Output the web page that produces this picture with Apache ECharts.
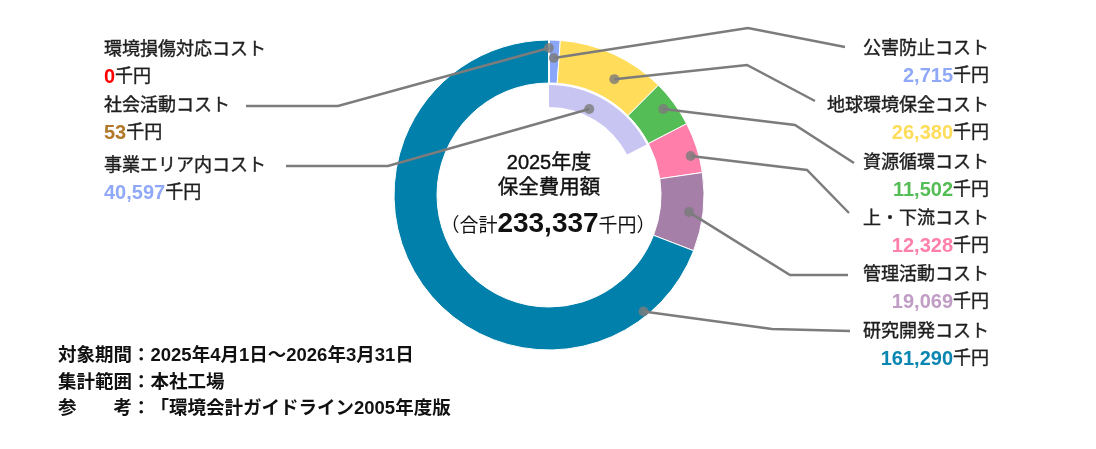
<!DOCTYPE html>
<html>
<head>
<meta charset="utf-8">
<script src="https://cdn.jsdelivr.net/npm/echarts@6/dist/echarts.min.js"></script>
<style>
html,body{margin:0;padding:0;background:#fff;}
#main{width:1096px;height:449px;}
</style>
</head>
<body>
<div id="main"></div>
<script>
// データ（単位：千円）
var costNames = ['公害防止コスト', '地球環境保全コスト', '資源循環コスト', '上・下流コスト', '管理活動コスト', '研究開発コスト', '社会活動コスト', '環境損傷対応コスト'];
var costValues = [2715, 26380, 11502, 12328, 19069, 161290, 53, 0];
var areaName = '事業エリア内コスト';
var areaValue = 40597;
var totalValue = 233337;
var titleLines = ['2025年度', '保全費用額'];
var noteHeads = ['対象期間：', '集計範囲：', '参　　考：'];
var noteBodies = ['2025年4月1日～2026年3月31日', '本社工場', '「環境会計ガイドライン2005年度版'];

// 色
var sliceColors = ['#8aa6f8', '#ffdc5a', '#55bd55', '#ff7faa', '#a67fa8', '#0080aa', '#b07828', '#ff0000'];
var valueColors = ['#8fa9f8', '#ffdc5a', '#55bd55', '#ff80aa', '#c09dc4', '#0a86b2', '#b07828', '#ff0000'];
var areaColor = '#c8c5f2';
var areaValueColor = '#8fa9f8';
var lineColor = '#7c7c7c';
var textColor = '#1e1e1e';
var font = '"Liberation Sans", "Noto Sans CJK JP", sans-serif';
var clear = 'rgba(0,0,0,0)';

// ラベル配置 [x, 上端y, 揃え]
var labelPos = [[989, 35, 'right'], [989, 92, 'right'], [989, 149, 'right'], [989, 205, 'right'], [989, 261, 'right'], [989, 318, 'right'], [104, 92, 'left'], [104, 36, 'left']];
var areaLabelPos = [104, 152, 'left'];
// 引き出し線 折れ点・終点
var bendPoints = [[748, 28], [747, 65], [795, 125], [807, 170], [790, 275], [772, 329], [338, 106], null];
var lineEnds = [[845, 47], [815, 101], [854, 163], [849, 213], [848, 275], [850, 331], [246, 106], null];
var areaBend = [388, 166];
var areaLineEnd = [286, 166];
// ドット：スライス内の位置（割合）と半径px
var dotFrac = [0.48, 0.62, 0.46, 0.63, 0.52, 0.12, 0.5, null];
var dotRadius = [137, 133, 143, 147, 141, 150, 147, null];
var areaDotFrac = 0.4;
var areaDotRadius = 95;

function formatNum(n) {
	return String(n).replace(/\B(?=(\d{3})+(?!\d))/g, ',');
}

var chart = echarts.init(document.getElementById('main'));

// ドットの極座標データ [半径, 角度値]
var dotPoints = [];
var acc = 0;
for (var i = 0; i < costValues.length; i++) {
	if (dotFrac[i] != null) {
		dotPoints.push([dotRadius[i], acc + costValues[i] * dotFrac[i]]);
	} else {
		dotPoints.push(null);
	}
	acc += costValues[i];
}
var areaDot = [areaDotRadius, areaValue * areaDotFrac];
var scatterData = [areaDot];
for (var j = 0; j < dotPoints.length; j++) {
	if (dotPoints[j]) scatterData.push(dotPoints[j]);
}

var rich = {
	n: {fontSize: 18, fontFamily: font, color: textColor, lineHeight: 28, textBorderColor: textColor, textBorderWidth: 0.4},
	u: {fontSize: 18, fontFamily: font, color: textColor, lineHeight: 27, textBorderColor: textColor, textBorderWidth: 0.4}
};
for (var k = 0; k < valueColors.length; k++) {
	rich['v' + k] = {fontSize: 20, fontWeight: 'bold', fontFamily: font, color: valueColors[k], lineHeight: 27};
}
rich.va = {fontSize: 20, fontWeight: 'bold', fontFamily: font, color: areaValueColor, lineHeight: 27};

// 表示用（色付き）と ラベル用（透明）
var outerData = [], outerLabelData = [];
for (var m = 0; m < costNames.length; m++) {
	outerData.push({name: costNames[m], value: costValues[m], itemStyle: {color: sliceColors[m]}});
	var item = {name: costNames[m], value: costValues[m]};
	if (!bendPoints[m]) item.labelLine = {show: false};
	outerLabelData.push(item);
}

// 注記テキスト
var noteGraphics = [];
for (var q = 0; q < noteHeads.length; q++) {
	noteGraphics.push({
		type: 'text', x: 58, y: 356 + q * 26.5,
		style: {
			text: '{h|' + noteHeads[q] + '}{t|' + noteBodies[q] + '}',
			align: 'left', verticalAlign: 'middle',
			rich: {
				h: {fontSize: 18.5, fontWeight: 'bold', fontFamily: font, fill: '#111'},
				t: {fontSize: 18.5, fontWeight: 'bold', fontFamily: font, fill: '#111'}
			}
		}
	});
}

var option = {
	animation: false,
	polar: {center: [549, 195], radius: 155},
	angleAxis: {type: 'value', min: 0, max: totalValue, startAngle: 90, clockwise: true, show: false},
	radiusAxis: {type: 'value', min: 0, max: 155, show: false},
	series: [
		{
			type: 'pie',
			z: 1,
			center: [549, 195],
			radius: [112, 155],
			startAngle: 90,
			silent: true,
			itemStyle: {borderColor: '#fff', borderWidth: 1},
			label: {show: false},
			labelLine: {show: false},
			data: outerData
		},
		{
			type: 'pie',
			z: 1,
			center: [549, 195],
			radius: [88, 110],
			startAngle: 90,
			silent: true,
			label: {show: false},
			labelLine: {show: false},
			data: [
				{name: areaName, value: areaValue, itemStyle: {color: areaColor}},
				{name: '', value: totalValue - areaValue, itemStyle: {color: clear}}
			]
		},
		{
			type: 'pie',
			z: 3,
			center: [549, 195],
			radius: [112, 155],
			startAngle: 90,
			avoidLabelOverlap: false,
			silent: true,
			itemStyle: {color: clear, borderWidth: 0},
			label: {
				show: true,
				position: 'outside',
				formatter: function(p) {
					return '{n|' + p.name + '}\n{v' + p.dataIndex + '|' + formatNum(p.value) + '}{u|千円}';
				},
				rich: rich
			},
			labelLine: {show: true, lineStyle: {color: lineColor, width: 2.5}},
			labelLayout: function(params) {
				var i = params.dataIndex;
				var p = labelPos[i];
				var res = {x: p[0], y: p[1], align: p[2], verticalAlign: 'top'};
				if (bendPoints[i]) {
					var dot = chart.convertToPixel({polarIndex: 0}, dotPoints[i]);
					res.labelLinePoints = [dot, bendPoints[i], lineEnds[i]];
				}
				return res;
			},
			data: outerLabelData
		},
		{
			type: 'pie',
			z: 3,
			center: [549, 195],
			radius: [88, 110],
			startAngle: 90,
			avoidLabelOverlap: false,
			silent: true,
			itemStyle: {color: clear, borderWidth: 0},
			label: {
				show: true,
				position: 'outside',
				formatter: function(p) {
					return '{n|' + p.name + '}\n{va|' + formatNum(p.value) + '}{u|千円}';
				},
				rich: rich
			},
			labelLine: {show: true, lineStyle: {color: lineColor, width: 2.5}},
			labelLayout: function(params) {
				if (params.dataIndex !== 0) return {};
				var dot = chart.convertToPixel({polarIndex: 0}, areaDot);
				return {
					x: areaLabelPos[0], y: areaLabelPos[1], align: areaLabelPos[2], verticalAlign: 'top',
					labelLinePoints: [dot, areaBend, areaLineEnd]
				};
			},
			data: [
				{name: areaName, value: areaValue},
				{name: '', value: totalValue - areaValue, label: {show: false}, labelLine: {show: false}}
			]
		},
		{
			type: 'scatter',
			coordinateSystem: 'polar',
			symbolSize: 10,
			silent: true,
			z: 5,
			itemStyle: {color: lineColor},
			data: scatterData
		}
	],
	graphic: [
		{type: 'text', x: 549, y: 163, style: {text: titleLines[0], fontSize: 20, fontFamily: font, fill: '#111', align: 'center', verticalAlign: 'middle', stroke: '#111', lineWidth: 0.4}},
		{type: 'text', x: 549, y: 188, style: {text: titleLines[1], fontSize: 20.5, fontFamily: font, fill: '#111', align: 'center', verticalAlign: 'middle', stroke: '#111', lineWidth: 0.4}},
		{type: 'text', x: 548, y: 224, style: {
			text: '{p|（}{s|合計}{b|' + formatNum(totalValue) + '}{s|千円}{p|）}',
			align: 'center', verticalAlign: 'middle',
			rich: {
				p: {fontSize: 19, fontFamily: font, fill: '#111', padding: [5, 0, 0, 0]},
				s: {fontSize: 19, fontFamily: font, fill: '#111', padding: [5, 0, 0, 0]},
				b: {fontSize: 28, fontWeight: 'bold', fontFamily: font, fill: '#111'}
			}
		}}
	].concat(noteGraphics)
};
chart.setOption(option);
</script>
</body>
</html>
